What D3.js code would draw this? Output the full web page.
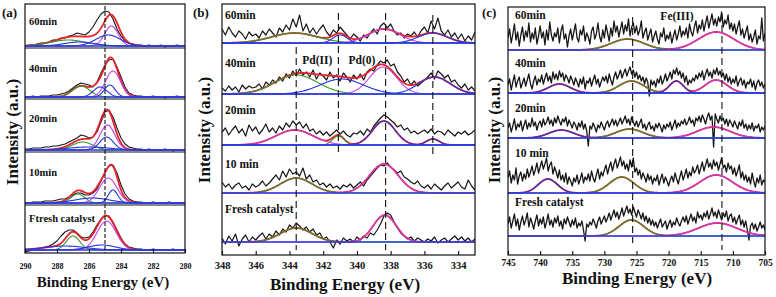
<!DOCTYPE html>
<html lang="en">
<head>
<meta charset="UTF-8">
<title>XPS spectra</title>
<script src="https://d3js.org/d3.v7.min.js"></script>
<style>
  html, body { margin: 0; padding: 0; background: #fff; }
  svg text { font-family: "Liberation Serif", "Times New Roman", serif; font-weight: bold; fill: #111; }
</style>
</head>
<body>
<svg id="svg"></svg>
<script>
// ---------------- data ----------------
// panel (a) C 1s, panel (b) Pd 3d, panel (c) Fe 2p
const aNames = ["60min", "40min", "20min", "10min", "Ftresh catalyst"];
const bNames = ["60min", "40min", "20min", "10 min", "Fresh catalyst"];
const cNames = ["60min", "40min", "20min", "10 min", "Fresh catalyst"];

const aRange = [290, 280];
const bRange = [348, 333];
const cRange = [745, 705];
const aTicks = [290, 288, 286, 284, 282, 280];
const bTicks = [348, 346, 344, 342, 340, 338, 336, 334];
const cTicks = [745, 740, 735, 730, 725, 720, 715, 710, 705];

// reference lines (eV)
const aDash = [285];
const bDash = [343.6, 341.1, 338.3, 335.5];
const cDash = [725.6, 711.7];
const bNotes = [["Pd(II)", 342.35], ["Pd(0)", 339.7]];
const cNotes = [["Fe(III)", 718.7]];

// measured counts, evenly spaced over each range (top row first)
const aRaw60 = [0,1,1,2,3,3,4,6,6,8,8,10,11,13,12,11,14,19,26,32,35,34,27,17,10,5,3,2,1,1,0,1,0,0,1,-1,0,0,1,0,0];
const aRaw40 = [0,0,1,0,1,1,1,2,2,3,4,6,9,12,14,13,12,10,15,24,32,37,38,30,20,10,4,2,1,1,0,0,1,0,0,-1,0,0,1,0,0];
const aRaw20 = [1,1,2,2,2,3,3,4,4,5,6,8,10,12,15,14,12,13,18,28,38,40,33,22,12,6,3,2,1,1,0,1,0,0,0,1,0,-1,0,0,0];
const aRaw10 = [0,0,1,1,1,2,2,2,3,4,4,6,8,10,10,8,8,10,14,22,31,37,38,30,18,9,4,2,1,1,0,0,1,0,0,0,1,0,0,0,0];
const aRawF  = [-2,-1,0,1,2,3,4,6,9,14,18,20,20,17,13,12,13,18,25,31,35,34,28,20,12,6,3,2,1,1,0,0,1,0,0,0,0,1,0,0,0];

const bRaw60 = [14,8,16,10,6,12,9,4,11,7, 9,5,12,8,14,10,6,15,11,18, 13,24,16,28,12,19,10,15,9,14,
  18,11,7,13,10,16,12,8,4,9, 6,2,8,5,10,14,9,17,20,15, 19,12,8,10,5,9,7,11,6,12,
  16,10,22,14,25,12,8,13,6,10, 4,9,2,7,3,11];
const bRaw40 = [6,3,8,4,7,2,9,5,8,6, 7,10,5,12,9,14,11,17,13,20, 16,23,18,25,19,22,17,24,15,21,
  18,14,22,16,19,13,21,17,12,19, 15,20,14,22,25,23,29,33,31,34, 28,30,22,18,12,15,9,13,8,11,
  14,17,21,15,23,20,16,19,12,14, 9,6,10,4,7,3];
const bRaw20 = [13,17,10,15,19,12,16,9,20,14, 18,11,15,21,13,17,12,19,15,22, 18,24,20,23,17,21,14,16,11,14,
  10,13,9,12,15,11,14,10,8,12, 11,14,10,16,13,19,23,27,30,28, 25,22,18,20,15,17,12,14,11,13,
  15,12,16,11,14,13,10,15,12,9, 13,11,14,10,12,15];
const bRaw10 = [11,6,9,4,8,10,5,7,3,9, 6,8,12,7,10,14,18,13,22,16, 24,19,21,17,25,14,18,11,13,8,
  10,6,9,5,7,4,8,6,9,5, 8,11,7,13,17,21,25,28,27,30, 26,23,20,22,16,14,11,9,12,7,
  5,8,4,9,6,3,7,10,5,8, 11,6,4,13,7,3];
const bRawF  = [4,-2,6,1,8,-4,3,7,0,5, 2,6,9,3,8,5,11,7,13,10, 17,14,19,16,12,15,10,13,7,9,
  3,5,0,-6,2,-2,4,1,3,0, 5,2,6,4,9,7,12,18,26,29, 27,20,14,9,6,3,5,1,4,2,
  0,3,1,5,-1,2,4,0,3,6, 2,5,1,4,0,3];

const cRaw60 = [12,21,7,16,26,10,18,4,15,23, 9,19,13,27,8,17,11,22,6,14, 24,12,18,5,20,10,28,15,9,17,
  13,22,7,19,25,11,16,3,14,21, 10,18,26,12,8,20,15,24,9,17, 13,6,19,23,11,16,27,14,8,20,
  12,25,17,9,22,14,29,18,24,13, 21,28,16,25,19,31,14,23,27,17, 24,15,20,29,12,18,22,10,16,21,
  8,14,19,11,6,17,13,22,9,15, 11,18,7,14,20,10,16,24,13,19, 15,22,12,26,18,14,23,29,17,25,
  21,30,19,27,34,22,29,36,25,31, 24,33,28,38,23,30,26,35,21,27, 19,26,16,23,29,15,21,12,18,24,
  10,16,8,13,20,6,14,11,32,9, 17];
const cRaw40 = [8,14,3,11,18,6,12,16,5,10, 15,7,13,19,9,4,12,17,8,14, 11,18,9,15,20,12,17,10,21,14,
  19,13,22,16,20,12,18,15,10,17, 13,8,15,11,6,14,9,16,4,12, 10,15,7,13,18,9,14,6,11,16,
  12,17,10,19,13,8,16,21,14,18, 23,15,20,24,17,22,26,19,23,16, 21,14,18,12,16,9,15,11,-3,13,
  8,12,6,14,10,17,9,13,19,12, 16,21,14,23,19,25,18,22,15,20, 11,17,8,13,10,15,12,18,14,20,
  16,22,13,19,24,17,21,15,23,19, 25,18,22,16,20,13,19,11,16,9, 14,10,17,7,12,15,8,13,5,11,
  9,14,6,12,3,10,13,7,11,5, 9];
const cRaw20 = [10,15,6,12,19,8,14,11,17,7, 13,18,9,15,11,20,12,16,8,14, 17,11,19,13,16,21,14,18,12,20,
  15,22,17,13,19,16,21,12,18,14, 10,16,13,8,15,11,17,9,14,7, -8,12,9,15,11,6,13,10,16,12,
  8,14,17,11,15,19,13,18,12,16, 20,14,18,22,15,19,13,21,16,12, 17,11,15,19,10,14,8,13,16,9,
  12,7,14,10,15,11,6,13,9,14, 11,16,8,13,18,10,15,12,17,14, 19,13,16,21,15,18,12,20,17,22,
  16,23,19,14,21,25,18,22,-9,24, 19,15,22,17,20,14,19,12,18,15, 11,17,13,9,16,12,18,10,14,8,
  13,9,15,7,12,10,14,6,11,8, 12];
const cRaw10 = [15,22,10,18,13,25,9,17,21,12, 19,14,24,16,21,27,18,23,30,20, 26,32,24,29,35,22,28,31,19,26,
  21,15,23,13,18,11,20,9,16,12, 7,15,11,18,9,14,20,10,16,13, 19,12,22,15,11,18,24,14,21,17,
  23,28,19,26,31,22,29,34,25,30, 36,27,32,24,29,22,33,26,35,21, 25,18,23,14,20,16,11,19,13,17,
  9,15,12,18,8,14,19,10,16,12, 7,13,17,11,20,14,9,16,22,13, 18,24,15,21,17,26,20,23,28,19,
  25,31,22,28,34,26,30,24,33,27, 31,23,29,35,25,28,21,30,24,27, 19,25,17,22,28,15,21,13,18,11,
  16,9,20,12,6,15,10,18,8,13, 11];
const cRawF  = [12,19,8,15,22,10,17,6,14,20, 11,16,23,9,18,13,7,15,21,10, 17,12,19,8,14,22,11,16,9,18,
  13,20,10,15,7,17,12,19,14,9, 16,11,18,8,13,10,15,6,-5,12, 9,14,11,17,13,8,15,19,12,16,
  20,14,18,23,16,21,26,19,24,17, 22,28,20,25,30,23,27,21,29,24, 19,26,22,17,23,15,20,13,18,11,
  16,10,14,8,13,17,9,12,15,7, 12,16,9,14,11,18,13,10,15,19, 14,20,12,17,22,15,19,13,24,18,
  21,16,23,19,25,17,22,28,20,24, 18,26,21,16,23,19,25,15,20,22, 14,19,12,17,21,11,16,9,15,6,
  -4,10,13,7,12,5,9,14,8,11, 6];

// fitted components: [centre eV, height, FWHM eV, component 0/1/2]
const aPeaks60 = [[284.6,20,1.0,0],[284.8,11,1.8,1],[286.6,4,2.2,1],[287.3,6,2.6,2]];
const aPeaks40 = [[284.5,26,1.1,0],[284.7,12,0.8,1],[285.3,10,1.0,1],[286.5,11,1.3,2]];
const aPeaks20 = [[284.85,25,1.1,0],[284.9,13,1.0,1],[286.0,3,3.0,1],[286.4,8,1.5,2]];
const aPeaks10 = [[284.8,25,1.3,0],[284.5,13,0.7,1],[285.8,5,2.5,1],[286.7,9,1.0,2]];
const aPeaksF  = [[284.9,29,1.4,0],[285.2,5,2.0,1],[287.5,4,3.0,1],[287.0,14,1.0,2]];

const bPeaks60 = [[338.4,14,2.2,0],[341.0,8,1.0,1],[335.5,10,2.0,1],[343.7,10,3.2,2]];
const bPeaks40 = [[338.45,27,1.9,0],[340.9,15,3.0,1],[335.4,17,2.2,1],[343.6,19,3.0,2]];
const bPeaks20 = [[343.7,15,2.6,0],[338.4,24,1.6,1],[335.5,6,0.9,1],[341.1,9,0.8,2]];
const bPeaks10 = [[338.4,29,2.0,0],[343.6,15,2.2,2]];
const bPeaksF  = [[338.35,27,1.6,0],[343.6,14,2.2,2]];

const cPeaks60 = [[712.6,18,6.5,0],[726.4,11,6.0,2]];
const cPeaks40 = [[712.6,13,4.0,0],[737.0,9,4.0,1],[718.8,12,2.5,1],[725.8,12,4.5,2]];
const cPeaks20 = [[713.0,11,6.0,0],[736.7,8,4.5,1],[726.1,9,5.0,2]];
const cPeaks10 = [[712.6,18,6.0,0],[738.8,14,3.5,1],[727.3,16,4.5,2]];
const cPeaksF  = [[712.4,13,7.0,0],[725.8,16,4.5,2]];

// ---------------- layout ----------------
const width = 776, height = 297;
const compColor = ["#c23ee6", "#2433d6", "#2f9a2a"];
const envColor = "#e8222a", baseColor = "#2a3ee0", rawColor = "#161616";

const panels = [
  { key: "a", range: aRange, ticks: aTicks, names: aNames, dash: aDash, notes: [],
    raw: [aRaw60, aRaw40, aRaw20, aRaw10, aRawF], peaks: [aPeaks60, aPeaks40, aPeaks20, aPeaks10, aPeaksF],
    x0: 25, x1: 185, top: 4, bottom: 253, bases: [46, 97, 150, 203, 250], seps: [48, 99, 152, 205],
    labelX: 29, labelY: [25, 72, 122, 176, 222], labelSize: 10.5,
    tickFont: 8, tickPad: 10, title: [103, 287, 15], ylab: [12, 132], letter: [2, 17],
    dashY: [[6, 253]], noteY: 0, rawW: 1.1 },
  { key: "b", range: bRange, ticks: bTicks, names: bNames, dash: bDash, notes: bNotes,
    raw: [bRaw60, bRaw40, bRaw20, bRaw10, bRawF], peaks: [bPeaks60, bPeaks40, bPeaks20, bPeaks10, bPeaksF],
    x0: 222, x1: 475, top: 4, bottom: 255, bases: [43, 94, 145, 193, 242], seps: [],
    labelX: 225, labelY: [19, 67, 114, 168, 213], labelSize: 11.5,
    tickFont: 10.5, tickPad: 7, title: [345, 290, 17], ylab: [204, 130], letter: [193, 17],
    dashY: [[47, 250], [13, 153], [13, 250], [15, 155]], noteY: 64, rawW: 1.2 },
  { key: "c", range: cRange, ticks: cTicks, names: cNames, dash: cDash, notes: cNotes,
    raw: [cRaw60, cRaw40, cRaw20, cRaw10, cRawF], peaks: [cPeaks60, cPeaks40, cPeaks20, cPeaks10, cPeaksF],
    x0: 508, x1: 765, top: 7, bottom: 255, bases: [50, 93, 138, 193, 236], seps: [],
    labelX: 515, labelY: [19, 67, 112, 157, 206], labelSize: 11.5,
    tickFont: 9.5, tickPad: 4, title: [637, 284, 17], ylab: [494, 130], letter: [482, 17],
    dashY: [[17, 243], [14, 250]], noteY: 20, rawW: 1.3 }
];

const svg = d3.select("#svg").attr("width", width).attr("height", height);

function gauss(p, e) {
  const d = (e - p[0]) / p[2];
  return p[1] * Math.exp(-4 * Math.LN2 * d * d);
}

panels.forEach(function(P) {
  const x = d3.scaleLinear().domain(P.range).range([P.x0, P.x1]);
  const g = svg.append("g");

  g.append("clipPath").attr("id", "clip-" + P.key)
    .append("rect").attr("x", P.x0).attr("y", P.top)
    .attr("width", P.x1 - P.x0).attr("height", P.bottom - P.top);
  const plot = g.append("g").attr("clip-path", "url(#clip-" + P.key + ")");

  const fitE = d3.range(0, 301).map(k => P.range[0] + (P.range[1] - P.range[0]) * k / 300);

  P.raw.forEach(function(raw, r) {
    const y = d3.scaleLinear().domain([0, 40]).range([P.bases[r], P.bases[r] - 40]);
    const eAt = i => P.range[0] + (P.range[1] - P.range[0]) * i / (raw.length - 1);

    plot.append("path").datum(raw)
      .attr("fill", "none").attr("stroke", rawColor).attr("stroke-width", P.rawW)
      .attr("stroke-linejoin", "round")
      .attr("d", d3.line().x((d, i) => x(eAt(i))).y(d => y(d)));

    const line = d3.line().x(d => x(d[0])).y(d => y(d[1]));
    const peaks = P.peaks[r];
    // envelope underneath, components on top so both colours show
    plot.append("path").datum(fitE.map(e => [e, d3.sum(peaks, p => gauss(p, e))]))
      .attr("fill", "none").attr("stroke", envColor).attr("stroke-width", 1.8)
      .attr("d", line);
    [2, 0, 1].forEach(function(c) {
      peaks.filter(p => p[3] === c).forEach(function(p) {
        plot.append("path").datum(fitE.map(e => [e, gauss(p, e)]))
          .attr("fill", "none").attr("stroke", compColor[c]).attr("stroke-width", 1.1)
          .attr("d", line);
      });
    });
    plot.append("line")
      .attr("x1", P.x0).attr("x2", P.x1).attr("y1", y(0)).attr("y2", y(0))
      .attr("stroke", baseColor).attr("stroke-width", 1.6);

    g.append("text").attr("x", P.labelX).attr("y", P.labelY[r])
      .attr("font-size", P.labelSize).text(P.names[r]);
  });

  // dashed reference lines
  P.dash.forEach(function(e, k) {
    g.append("line").attr("x1", x(e)).attr("x2", x(e))
      .attr("y1", P.dashY[k][0]).attr("y2", P.dashY[k][1])
      .attr("stroke", "#111").attr("stroke-width", 1.1)
      .attr("stroke-dasharray", P.key === "a" ? "4,2" : "7,4");
  });
  P.notes.forEach(function(n) {
    g.append("text").attr("x", x(n[1])).attr("y", P.noteY)
      .attr("text-anchor", "middle").attr("font-size", 11.5)
      .attr("font-weight", P.key === "b" ? "normal" : "bold").text(n[0]);
  });

  // row separators and frame
  P.seps.forEach(function(s) {
    g.append("line").attr("x1", P.x0).attr("x2", P.x1).attr("y1", s).attr("y2", s)
      .attr("stroke", "#111").attr("stroke-width", 1);
  });
  g.append("rect").attr("x", P.x0).attr("y", P.top)
    .attr("width", P.x1 - P.x0).attr("height", P.bottom - P.top)
    .attr("fill", "none").attr("stroke", "#111").attr("stroke-width", 1.2);

  // bottom axis, ticks pointing inward
  const axis = g.append("g").attr("transform", "translate(0," + P.bottom + ")")
    .call(d3.axisBottom(x).tickValues(P.ticks).tickSizeInner(-4).tickSizeOuter(0)
      .tickPadding(P.tickPad).tickFormat(d3.format("d")));
  axis.select(".domain").remove();
  axis.selectAll("line").attr("stroke", "#111").attr("stroke-width", 1.1);
  axis.selectAll("text").attr("font-size", P.tickFont)
    .attr("font-family", "Liberation Serif, serif").attr("font-weight", "bold").attr("fill", "#111");

  g.append("text").attr("x", P.title[0]).attr("y", P.title[1])
    .attr("text-anchor", "middle").attr("font-size", P.title[2]).text("Binding Energy (eV)");
  g.append("text").attr("transform", "translate(" + P.ylab[0] + "," + P.ylab[1] + ") rotate(-90)")
    .attr("text-anchor", "middle").attr("dy", "0.35em").attr("font-size", 17).text("Intensity (a.u.)");
  g.append("text").attr("x", P.letter[0]).attr("y", P.letter[1])
    .attr("font-size", 13).text("(" + P.key + ")");
});
</script>
</body>
</html>
